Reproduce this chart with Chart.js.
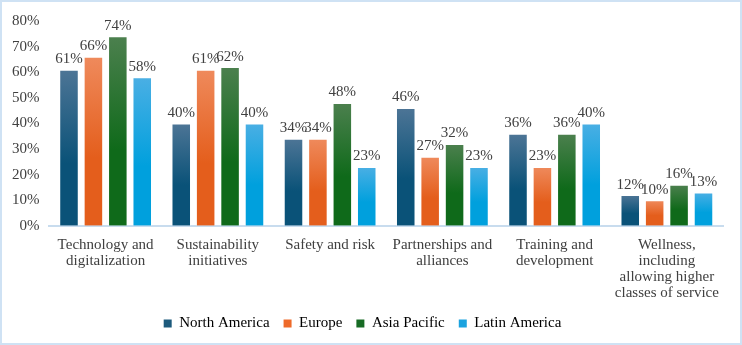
<!DOCTYPE html>
<html>
<head>
<meta charset="utf-8">
<script src="https://cdn.jsdelivr.net/npm/chart.js@4"></script>
<style>
    html, body { margin: 0; padding: 0; background: #fff; }
    #wrap {
        width: 742px; height: 345px; box-sizing: border-box;
        border: 2px solid #cfe2f4; position: relative;
    }
</style>
</head>
<body>
<div id="wrap"><canvas id="chart"></canvas></div>
<script>
// chart values
const categories = [
    ['Technology and', 'digitalization'],
    ['Sustainability', 'initiatives'],
    ['Safety and risk'],
    ['Partnerships and', 'alliances'],
    ['Training and', 'development'],
    ['Wellness,', 'including', 'allowing higher', 'classes of service']
];
const seriesNames = ['North America', 'Europe', 'Asia Pacific', 'Latin America'];
const northAmerica = [61, 40, 34, 46, 36, 12];
const europe = [66, 61, 34, 27, 23, 10];
const asiaPacific = [74, 62, 48, 32, 36, 16];
const latinAmerica = [58, 40, 23, 23, 40, 13];
const yTicks = [0, 10, 20, 30, 40, 50, 60, 70, 80];

// [top colour, bottom colour, legend colour]
const colours = [
    ['#4d7596', '#0a5278', '#1d5a7c'],
    ['#ef8a5c', '#e45e1c', '#ee6a2a'],
    ['#4c804e', '#0f6a1a', '#176b24'],
    ['#4aafe4', '#00a0dd', '#1ba3df']
];

const fontFam = '"Liberation Serif", "Times New Roman", serif';

// each bar fades from a lighter top to the full colour
function makeGradient(ctx, i) {
    const chart = ctx.chart;
    if (!chart.chartArea || ctx.type !== 'data') return colours[i][1];
    const yScale = chart.scales.y;
    const top = yScale.getPixelForValue(ctx.raw);
    const bottom = yScale.getPixelForValue(0);
    const g = chart.ctx.createLinearGradient(0, top, 0, bottom);
    g.addColorStop(0, colours[i][0]);
    g.addColorStop(0.6, colours[i][1]);
    g.addColorStop(1, colours[i][1]);
    return g;
}

// little plugin for the value labels above the bars
const valueLabels = {
    id: 'valueLabels',
    afterDatasetsDraw(chart) {
        const c = chart.ctx;
        c.save();
        c.font = '15px ' + fontFam;
        c.fillStyle = '#404040';
        c.textAlign = 'center';
        c.textBaseline = 'bottom';
        chart.data.datasets.forEach((ds, di) => {
            chart.getDatasetMeta(di).data.forEach((bar, i) => {
                c.fillText(ds.data[i] + '%', bar.x, bar.y - 3);
            });
        });
        c.restore();
    }
};

const allData = [northAmerica, europe, asiaPacific, latinAmerica];

document.addEventListener('DOMContentLoaded', function () {
    const ctx = document.getElementById('chart').getContext('2d');
    new Chart(ctx, {
        type: 'bar',
        data: {
            labels: categories,
            datasets: allData.map((d, i) => ({
                label: seriesNames[i],
                data: d,
                backgroundColor: (c) => makeGradient(c, i),
                borderColor: 'rgba(255,255,255,0.35)',
                borderWidth: 1,
                categoryPercentage: 0.87,
                barPercentage: 0.8
            }))
        },
        options: {
            responsive: true,
            maintainAspectRatio: false,
            animation: false,
            layout: { padding: { left: 0, right: 17, top: 1, bottom: 2 } },
            plugins: {
                tooltip: { enabled: false },
                legend: {
                    position: 'bottom',
                    labels: {
                        font: { family: fontFam, size: 15 },
                        color: '#404040',
                        boxWidth: 8,
                        boxHeight: 8,
                        padding: 14,
                        generateLabels: (chart) => seriesNames.map((n, i) => ({
                            text: n,
                            fillStyle: colours[i][2],
                            strokeStyle: colours[i][2],
                            lineWidth: 0,
                            datasetIndex: i
                        }))
                    }
                }
            },
            scales: {
                x: {
                    grid: { display: false, drawTicks: false },
                    border: { color: '#c8dcee', width: 2 },
                    // labels sit closer to the legend in the original
                    afterFit: (scale) => { scale.height -= 10; },
                    ticks: {
                        font: { family: fontFam, size: 15, lineHeight: 1.07 },
                        color: '#404040',
                        maxRotation: 0,
                        autoSkip: false,
                        padding: 11
                    }
                },
                y: {
                    min: 0,
                    max: 80,
                    afterBuildTicks: (axis) => { axis.ticks = yTicks.map(v => ({ value: v })); },
                    grid: { display: false, drawTicks: false },
                    border: { display: false },
                    ticks: {
                        font: { family: fontFam, size: 15 },
                        color: '#404040',
                        padding: 10,
                        callback: (v) => v + '%'
                    }
                }
            }
        },
        plugins: [valueLabels]
    });
});
</script>
</body>
</html>
